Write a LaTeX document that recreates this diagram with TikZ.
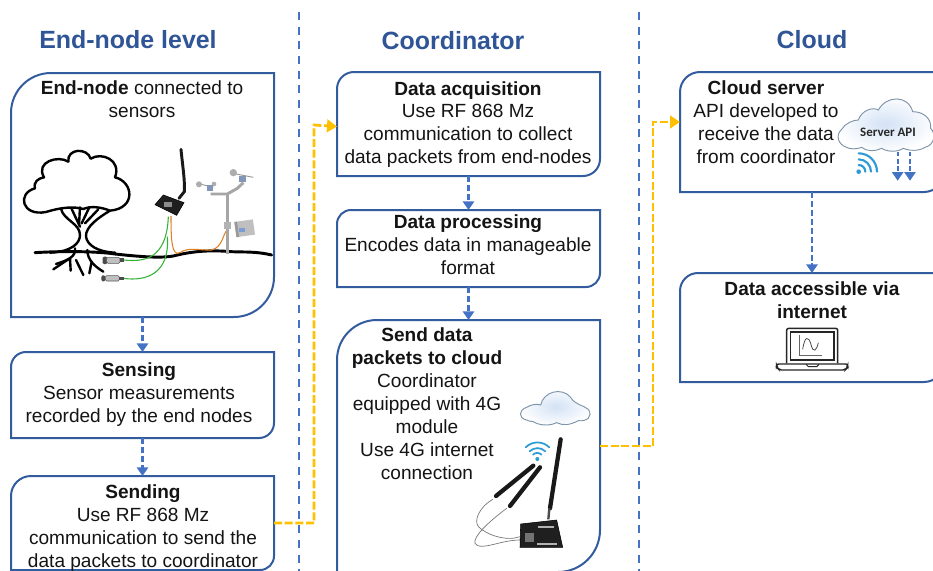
\documentclass[tikz,border=0pt]{standalone}
\usepackage{fontspec}
\setmainfont{Liberation Sans}
\newfontfamily\calib{Carlito}
\usetikzlibrary{arrows.meta,calc}
\definecolor{boxblue}{HTML}{335C9E}
\definecolor{headblue}{HTML}{2F5597}
\definecolor{dashblue}{HTML}{4472C4}
\definecolor{linkgold}{HTML}{FFC000}
\definecolor{inktext}{HTML}{141414}
\definecolor{wifiblue}{HTML}{2E9BD6}
\definecolor{cloudedge}{HTML}{7F93A8}
\definecolor{cloudfill}{HTML}{D3E2F5}
\tikzset{
  anchorbox/.style={draw=none,inner sep=0pt,outer sep=0pt},
  panelline/.style={draw=boxblue,line width=1.5pt,fill=white},
  header/.style={font=\bfseries\fontsize{18.7}{22}\selectfont,text=headblue,inner sep=0pt},
  body/.style={font=\fontsize{14.3}{17.2}\selectfont,text=inktext,align=center,inner sep=0pt},
  divider/.style={draw=dashblue,line width=1.6pt,dash pattern=on 6pt off 5pt},
  flow/.style={draw=dashblue,line width=1.8pt,dash pattern=on 4.5pt off 2.2pt,-{Triangle[length=6.5pt,width=8.5pt]}},
  uplink/.style={draw=linkgold,line width=2.1pt,dash pattern=on 6pt off 2pt,-{Triangle[length=7.5pt,width=9.5pt]}},
  treeline/.style={draw=black,line width=1.8pt,line cap=round,line join=round},
  cloudshape/.style={draw=cloudedge,line width=0.7pt,inner color=cloudfill,outer color=white},
  wifiarc/.style={draw=wifiblue,line width=1.6pt,line cap=round},
  pcb/.style={fill=black!88,draw=black},
  antenna/.style={draw=black!90,line width=2.6pt,line cap=round},
  zoomed/.style={x=0.25pt,y=-0.25pt},
}
% name, x1, y1, x2, y2, radius NW, radius SE (all in reference pixels)
\newcommand{\panel}[7]{%
  \pgfmathsetlengthmacro{\ra}{#6*0.75pt}%
  \pgfmathsetlengthmacro{\rb}{#7*0.75pt}%
  \pgfmathsetlengthmacro{\pw}{(#4-#2)*0.75pt}%
  \pgfmathsetlengthmacro{\ph}{(#5-#3)*0.75pt}%
  \node[anchorbox,minimum width=\pw,minimum height=\ph] (#1) at ({(#2+#4)/2},{(#3+#5)/2}) {};
  \draw[panelline] (#2,#3+#6) arc[start angle=180,end angle=90,radius=\ra] -- (#4,#3) -- (#4,#5-#7)
    arc[start angle=0,end angle=-90,radius=\rb] -- (#2,#5) -- cycle;
}
\begin{document}
\begin{tikzpicture}[x=0.75pt,y=-0.75pt]
\useasboundingbox (0,0) rectangle (933,571);
\clip (0,0) rectangle (933,571);

% dividers
\coordinate (d1a) at (299,12); \coordinate (d1b) at (299,571);
\coordinate (d2a) at (639,12); \coordinate (d2b) at (639,571);
\draw[divider] (d1a) -- (d1b);
\draw[divider] (d2a) -- (d2b);

% headers
\node[header] (h1) at (128,40) {End-node level};
\node[header] (h2) at (453,41) {Coordinator};
\node[header] (h3) at (812,40) {Cloud};

% panels
\panel{endnode}{11}{73}{274}{317}{40}{40}
\panel{sensing}{11}{352}{274}{438}{15}{15}
\panel{sending}{11}{476}{274}{570}{20}{14}
\panel{acq}{337}{72}{600}{176}{17}{17}
\panel{proc}{337}{210}{600}{287}{14}{14}
\panel{sendcloud}{337}{320}{600}{572}{40}{42}
\panel{server}{680}{72}{944}{192}{20}{20}
\panel{access}{680}{273}{944}{382}{18}{20}

% panel text
\node[body] (t1) at (142,99) {\textbf{End-node} connected to\\sensors};
\node[body] (t2) at (139,395) {\textbf{Sensing}\\Sensor measurements\\recorded by the end nodes};
\node[body] (t3) at (143,528) {\textbf{Sending}\\Use RF 868 Mz\\communication to send the\\data packets to coordinator};
\node[body] (t4) at (468,124.5) {\textbf{Data acquisition}\\Use RF 868 Mz\\communication to collect\\data packets from end-nodes};
\node[body] (t5) at (468,245) {\textbf{Data processing}\\Encodes data in manageable\\format};
\node[body] (t6) at (427,403.5) {\textbf{Send data}\\\textbf{packets to cloud}\\Coordinator\\equipped with 4G\\module\\Use 4G internet\\connection};
\node[body] (t7) at (766,122) {\textbf{Cloud server}\\API developed to\\receive the data\\from coordinator};
\node[body] (t8) at (812,300) {\textbf{Data accessible via}\\\textbf{internet}};

% flow connectors
\draw[flow] (endnode.south) -- (endnode.south |- sensing.north);
\draw[flow] (sensing.south) -- (sensing.south |- sending.north);
\draw[flow] (acq.south) -- (acq.south |- proc.north);
\draw[flow] (proc.south) -- (proc.south |- sendcloud.north);
\draw[flow] (server.south) -- (server.south |- access.north);
\draw[uplink] (sending.east) -- (314,523) -- (314,125) -- ([yshift=-1.9pt]acq.west);
\draw[uplink] (sendcloud.east) -- (653,446) -- (653,122) -- ([yshift=7.5pt]server.west);

% end-node illustration (zoom coordinates: 3 units per reference pixel)
\begin{scope}[shift={(0,60)},zoomed]
  % crown
  \draw[treeline] (138,456) .. controls (65,470) and (50,400) .. (105,385)
     .. controls (100,365) and (115,355) .. (132,352)
     .. controls (105,305) and (175,285) .. (205,305)
     .. controls (200,265) and (262,262) .. (272,296)
     .. controls (305,275) and (365,300) .. (345,352)
     .. controls (400,365) and (410,445) .. (330,452)
     .. controls (300,440) and (270,438) .. (250,447)
     .. controls (225,440) and (190,440) .. (138,456);
  % trunk
  \draw[treeline] (183,446) .. controls (190,480) and (240,490) .. (240,525)
     .. controls (240,550) and (215,575) .. (150,578);
  \draw[treeline] (330,452) .. controls (300,470) and (255,500) .. (258,530)
     .. controls (262,555) and (290,575) .. (345,578);
  \draw[treeline] (215,447) -- (240,500);
  \draw[treeline] (240,442) -- (237,495);
  \draw[treeline] (268,442) -- (245,490);
  \draw[treeline] (295,448) -- (255,490);
  % roots
  \draw[treeline] (225,565) .. controls (228,590) and (205,600) .. (168,612);
  \draw[treeline] (205,598) -- (160,628);
  \draw[treeline] (210,595) -- (212,632);
  \draw[treeline] (228,600) -- (250,645);
  \draw[treeline] (262,570) .. controls (262,600) and (285,620) .. (310,635);
  \draw[treeline] (275,605) -- (268,640);
  % ground
  \draw[treeline,line width=2.2pt] (105,578) .. controls (200,572) and (300,575) .. (345,582)
     .. controls (420,590) and (480,595) .. (520,588) .. controls (570,575) and (620,570) .. (680,574)
     .. controls (720,578) and (760,572) .. (815,585);
  % buried sensors
  \draw[green!55!gray!90!black,line width=0.8pt] (372,600) .. controls (430,606) and (500,600) .. (505,470);
  \draw[green!55!gray!90!black,line width=0.8pt] (370,655) .. controls (440,665) and (510,640) .. (502,530);
  \fill[black!70,rounded corners=1pt] (308,590) rectangle (322,612);
  \draw[black!65,fill=black!25,rounded corners=1pt] (320,592) rectangle (360,610);
  \fill[black!70] (360,595) rectangle (372,606);
  \fill[black!70,rounded corners=1pt] (304,646) rectangle (316,664);
  \draw[black!65,fill=black!25,rounded corners=1pt] (316,647) rectangle (358,663);
  \fill[black!70] (358,650) rectangle (372,660);
  % orange lead
  \draw[orange!85!black!85,line width=0.8pt] (513,468) .. controls (513,540) and (515,590) .. (540,578)
     .. controls (565,560) and (600,572) .. (635,570) .. controls (670,560) and (668,520) .. (682,510);
  % weather station
  \draw[black!35,line width=2.4pt] (682,400) -- (682,582);
  \draw[black!35,line width=2.2pt] (632,402) -- (682,402) -- (712,385) -- (730,368);
  \draw[black!40,line width=0.7pt] (600,372) -- (640,382);
  \draw[black!40,line width=0.7pt] (698,340) -- (760,352);
  \fill[black!32] (597,373) circle[radius=9];
  \fill[black!32] (642,372) circle[radius=7];
  \fill[black!32] (700,338) circle[radius=11];
  \fill[dashblue!70!black!60] (622,375) rectangle (640,392);
  \fill[dashblue!70!black!60] (718,348) rectangle (738,366);
  \fill[black!30] (673,485) rectangle (692,508);
  \fill[black!25,rotate around={8:(733,505)}] (706,482) rectangle (762,528);
  \fill[black!40,rotate around={8:(733,505)}] (706,482) rectangle (714,528);
  \fill[dashblue!70] (716,505) rectangle (736,516);
  % end-node board and antenna
  \draw[antenna,line width=2.2pt] (543,268) .. controls (548,320) and (555,360) .. (553,395) -- (537,415);
  \fill[pcb] (465,434) -- (490,405) -- (552,428) -- (530,466) -- cycle;
  \fill[black!45] (492,425) rectangle (515,442);
\end{scope}

% server cloud, wifi, arrows (zoom coordinates)
\begin{scope}[shift={(670,60)},zoomed]
  \draw[cloudshape] (530,262) .. controls (505,255) and (495,225) .. (515,208)
    .. controls (525,190) and (550,180) .. (565,180)
    .. controls (575,150) and (610,140) .. (625,150)
    .. controls (650,105) and (715,105) .. (728,155)
    .. controls (760,155) and (785,175) .. (782,205)
    .. controls (798,220) and (795,255) .. (765,262)
    .. controls (745,275) and (715,272) .. (700,265)
    .. controls (680,278) and (650,275) .. (635,265)
    .. controls (615,275) and (590,275) .. (575,262)
    .. controls (560,268) and (540,268) .. (530,262) -- cycle;
  \node[font=\calib\bfseries\fontsize{9.7}{11}\selectfont,text=black!85,inner sep=0pt] (apilabel) at (654,218) {Server API};
  \fill[wifiblue] (566,335) circle[radius=7];
  \draw[wifiarc] (566,315) arc[start angle=90,end angle=0,radius=5pt];
  \draw[wifiarc] (566,298) arc[start angle=90,end angle=0,radius=9.25pt];
  \draw[wifiarc] (566,280) arc[start angle=90,end angle=0,radius=13.75pt];
  \coordinate (a1s) at (683,275); \coordinate (a1e) at (683,362);
  \coordinate (a2s) at (720,275); \coordinate (a2e) at (720,362);
  \draw[flow,line width=1.3pt,dash pattern=on 3.5pt off 2pt] (a1s) -- (a1e);
  \draw[flow,line width=1.3pt,dash pattern=on 3.5pt off 2pt] (a2s) -- (a2e);
  % laptop
  \draw[black!85,line width=1.1pt,rounded corners=1.5pt] (350,910) -- (350,805) -- (503,805) -- (503,910);
  \draw[black!85,line width=0.9pt] (362,816) rectangle (492,900);
  \draw[black!85,line width=1.1pt,rounded corners=1.5pt,fill=white] (320,912) -- (533,912) -- (533,922) -- (525,930) -- (328,930) -- (320,922) -- cycle;
  \draw[black!85,line width=0.7pt] (408,913) -- (415,920) -- (440,920) -- (447,913);
  \draw[black!60,line width=0.7pt] (388,826) -- (388,885) -- (455,885);
  \draw[black!70,line width=0.6pt] (398,868) .. controls (405,825) and (415,830) .. (422,850) .. controls (430,885) and (440,870) .. (445,848);
\end{scope}

% coordinator illustration (zoom coordinates)
\begin{scope}[shift={(330,310)},zoomed]
  \draw[cloudshape] (590,330) .. controls (565,325) and (565,300) .. (590,292)
    .. controls (600,285) and (620,280) .. (632,285)
    .. controls (640,245) and (695,230) .. (722,262)
    .. controls (735,285) and (760,285) .. (775,298)
    .. controls (790,320) and (770,335) .. (745,332)
    .. controls (720,345) and (700,348) .. (680,338)
    .. controls (655,350) and (625,345) .. (610,335)
    .. controls (600,335) and (595,332) .. (590,330) -- cycle;
  \fill[wifiblue] (622,447) circle[radius=6];
  \draw[wifiarc,line width=1.3pt] (609,434) arc[start angle=135,end angle=45,radius=4.5pt];
  \draw[wifiarc,line width=1.3pt] (599,424) arc[start angle=135,end angle=45,radius=8.25pt];
  \draw[wifiarc,line width=1.3pt] (587,412) arc[start angle=135,end angle=45,radius=12.5pt];
  % antennas and leads
  \draw[black!55,line width=0.5pt] (488,568) .. controls (450,590) and (430,630) .. (445,650)
     .. controls (470,675) and (530,695) .. (570,680);
  \draw[black!55,line width=0.5pt] (530,595) .. controls (470,640) and (430,680) .. (435,700)
     .. controls (450,725) and (510,690) .. (570,690);
  \draw[antenna,line width=3.2pt] (498,558) -- (610,467);
  \draw[antenna,line width=3.2pt] (540,588) -- (630,472);
  \draw[antenna,line width=3.2pt] (692,388) -- (660,595);
  \draw[black!70,line width=1.8pt] (658,595) -- (655,628);
  % board
  \fill[pcb] (572,642) -- (680,630) -- (698,712) -- (570,712) -- cycle;
  \fill[black!55] (585,668) rectangle (612,695);
  \fill[black!30] (625,648) rectangle (672,654);
  \fill[black!30] (622,700) rectangle (680,705);
\end{scope}
\end{tikzpicture}
\end{document}
